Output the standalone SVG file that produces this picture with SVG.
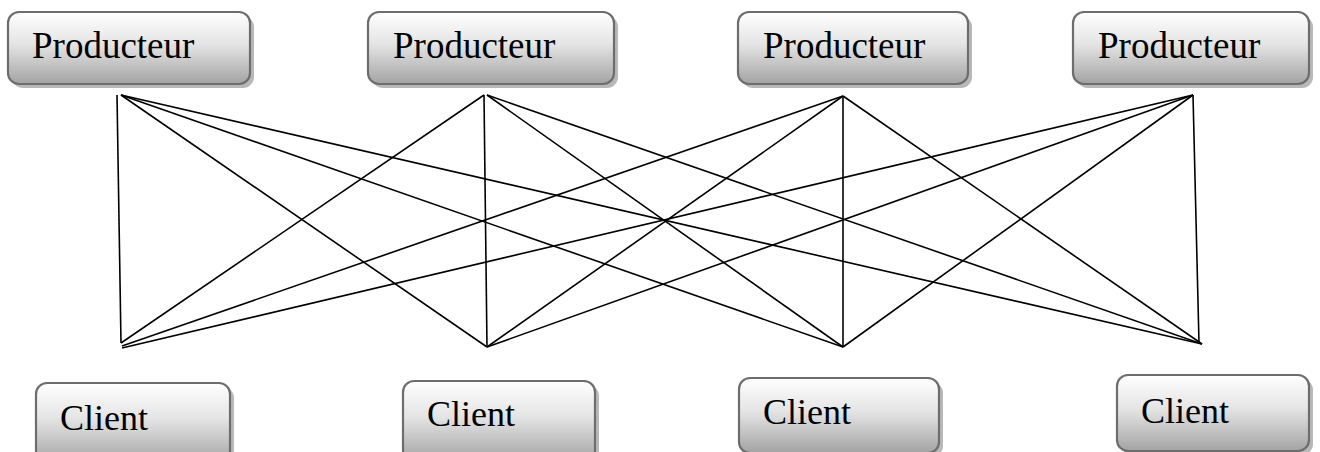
<svg xmlns="http://www.w3.org/2000/svg" width="1320" height="452" viewBox="0 0 1320 452">
<defs>
<linearGradient id="g" x1="0" y1="0" x2="0" y2="1">
<stop offset="0" stop-color="#ffffff"/>
<stop offset="0.45" stop-color="#e4e4e4"/>
<stop offset="1" stop-color="#a3a3a3"/>
</linearGradient>
</defs>
<style>
.box{fill:url(#g);stroke:#6d6d6d;stroke-width:2.2}
.sh{fill:#b8b8b8}
.t{font-family:"Liberation Serif","Times New Roman",serif;fill:#000}
.p{font-size:37px}
.c{font-size:36px}
.ln{stroke:#000;stroke-width:1.6;fill:none}
</style>
<rect width="1320" height="452" fill="#fff"/>
<g id="producteur1"><rect class="sh" x="12" y="16" width="242" height="72" rx="11"/><rect class="box" x="8" y="12" width="242" height="72" rx="11"/><text class="t p" x="32" y="58">Producteur</text></g>
<g id="producteur2"><rect class="sh" x="372" y="16" width="246" height="72" rx="11"/><rect class="box" x="368" y="12" width="246" height="72" rx="11"/><text class="t p" x="393" y="58">Producteur</text></g>
<g id="producteur3"><rect class="sh" x="742" y="16" width="230" height="72" rx="11"/><rect class="box" x="738" y="12" width="230" height="72" rx="11"/><text class="t p" x="763" y="58">Producteur</text></g>
<g id="producteur4"><rect class="sh" x="1077" y="16" width="236" height="72" rx="11"/><rect class="box" x="1073" y="12" width="236" height="72" rx="11"/><text class="t p" x="1098" y="58">Producteur</text></g>
<g id="client1"><rect class="sh" x="40" y="387" width="194" height="80" rx="11"/><rect class="box" x="36" y="383" width="194" height="80" rx="11"/><text class="t c" x="60" y="430">Client</text></g>
<g id="client2"><rect class="sh" x="407" y="385" width="192" height="80" rx="11"/><rect class="box" x="403" y="381" width="192" height="80" rx="11"/><text class="t c" x="427" y="426">Client</text></g>
<g id="client3"><rect class="sh" x="743" y="382" width="200" height="75" rx="11"/><rect class="box" x="739" y="378" width="200" height="75" rx="11"/><text class="t c" x="763" y="424">Client</text></g>
<g id="client4"><rect class="sh" x="1121" y="379" width="192" height="76" rx="11"/><rect class="box" x="1117" y="375" width="192" height="76" rx="11"/><text class="t c" x="1141" y="423">Client</text></g>
<g id="connectors" class="ln">
<line x1="117" y1="95" x2="121" y2="343"/>
<line x1="121" y1="95" x2="487" y2="347"/>
<line x1="121" y1="95" x2="843" y2="347"/>
<line x1="121" y1="95" x2="1202" y2="344"/>
<line x1="484" y1="95" x2="121" y2="343"/>
<line x1="484" y1="95" x2="487" y2="347"/>
<line x1="487" y1="95" x2="843" y2="347"/>
<line x1="487" y1="95" x2="1202" y2="344"/>
<line x1="843" y1="96" x2="122" y2="346"/>
<line x1="843" y1="96" x2="487" y2="347"/>
<line x1="843" y1="96" x2="843" y2="347"/>
<line x1="843" y1="96" x2="1202" y2="344"/>
<line x1="1193" y1="95" x2="122" y2="348"/>
<line x1="1193" y1="95" x2="487" y2="347"/>
<line x1="1193" y1="95" x2="843" y2="347"/>
<line x1="1193" y1="95" x2="1199" y2="343"/>
</g>
</svg>
